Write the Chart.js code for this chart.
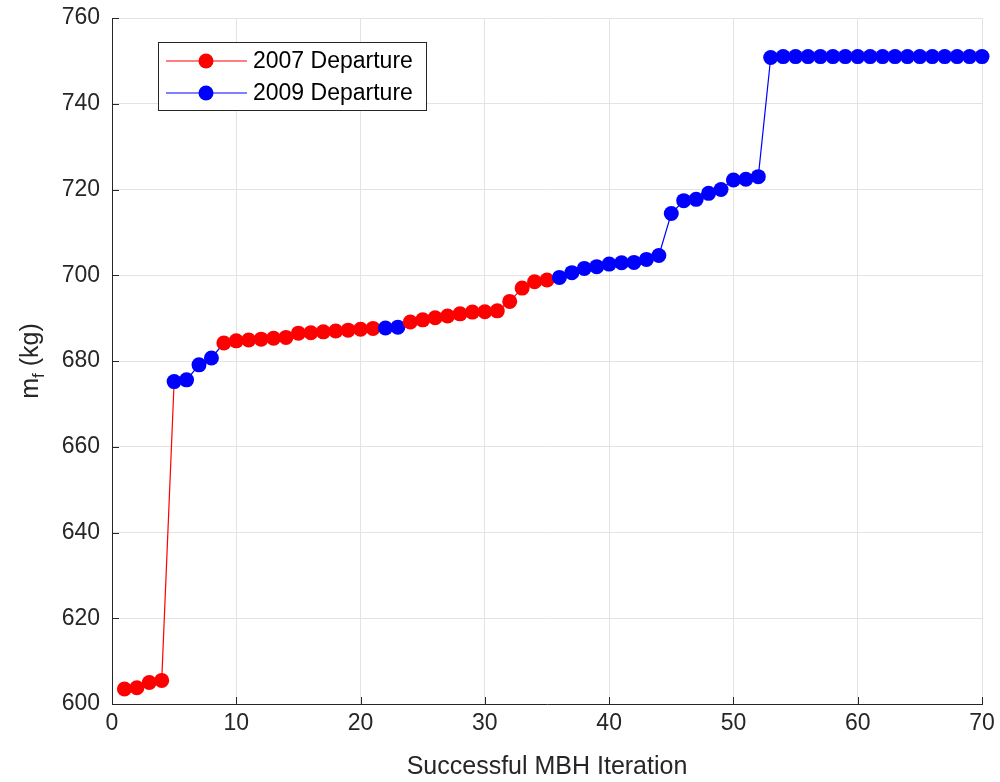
<!DOCTYPE html>
<html>
<head>
<meta charset="utf-8">
<script src="https://cdn.jsdelivr.net/npm/chart.js"></script>
<style>
  html, body { margin: 0; padding: 0; background: #ffffff; }
  #chart { display: block; }
</style>
</head>
<body>
<canvas id="chart" width="1000" height="782"></canvas>
<script>
const FONT = '"Liberation Sans", Arial, Helvetica, sans-serif';
const AXIS_COLOR = '#262626';
const GRID_COLOR = '#e3e3e3';

const iterations = [
    1, 2, 3, 4, 5, 6, 7, 8, 9, 10,
    11, 12, 13, 14, 15, 16, 17, 18, 19, 20,
    21, 22, 23, 24, 25, 26, 27, 28, 29, 30,
    31, 32, 33, 34, 35, 36, 37, 38, 39, 40,
    41, 42, 43, 44, 45, 46, 47, 48, 49, 50,
    51, 52, 53, 54, 55, 56, 57, 58, 59, 60,
    61, 62, 63, 64, 65, 66, 67, 68, 69, 70
];

// fuel mass m_f (kg) at each successful iteration
const fuelMass = [
    603.5, 603.8, 605.0, 605.5, 675.2, 675.6, 679.1, 680.7, 684.2, 684.7,
    684.9, 685.1, 685.3, 685.5, 686.5, 686.6, 686.8, 687.0, 687.2, 687.4,
    687.6, 687.7, 687.9, 689.1, 689.6, 690.1, 690.5, 691.0, 691.4, 691.5,
    691.7, 693.9, 697.0, 698.5, 698.9, 699.5, 700.6, 701.6, 702.0, 702.6,
    702.9, 703.0, 703.7, 704.6, 714.4, 717.4, 717.7, 719.1, 720.0, 722.2,
    722.4, 723.0, 750.8, 751.0, 751.0, 751.0, 751.0, 751.0, 751.0, 751.0,
    751.0, 751.0, 751.0, 751.0, 751.0, 751.0, 751.0, 751.0, 751.0, 751.0
];

// departure year of the best solution at each iteration
const departure = [
    2007, 2007, 2007, 2007, 2009, 2009, 2009, 2009, 2007, 2007,
    2007, 2007, 2007, 2007, 2007, 2007, 2007, 2007, 2007, 2007,
    2007, 2009, 2009, 2007, 2007, 2007, 2007, 2007, 2007, 2007,
    2007, 2007, 2007, 2007, 2007, 2009, 2009, 2009, 2009, 2009,
    2009, 2009, 2009, 2009, 2009, 2009, 2009, 2009, 2009, 2009,
    2009, 2009, 2009, 2009, 2009, 2009, 2009, 2009, 2009, 2009,
    2009, 2009, 2009, 2009, 2009, 2009, 2009, 2009, 2009, 2009
];

const legendYears = [2007, 2009];
const legendLabels = ['2007 Departure', '2009 Departure'];
const yearColors = { 2007: '#ff0000', 2009: '#0000ff' };

const xTicks = [0, 10, 20, 30, 40, 50, 60, 70];
const yTicks = [600, 620, 640, 660, 680, 700, 720, 740, 760];

const points = iterations.map((it, i) => ({ x: it, y: fuelMass[i] }));
const pointColors = departure.map(d => yearColors[d]);

// box legend in the upper left, line + marker like the original
const insideLegend = {
    id: 'insideLegend',
    afterDatasetsDraw(chart) {
        const ctx = chart.ctx;
        ctx.save();
        ctx.fillStyle = '#ffffff';
        ctx.fillRect(158.5, 42.5, 268, 68);
        ctx.strokeStyle = AXIS_COLOR;
        ctx.lineWidth = 1;
        ctx.strokeRect(158.5, 42.5, 268, 68);
        legendYears.forEach((yr, i) => {
            const y = 61 + i * 32;
            ctx.strokeStyle = yearColors[yr];
            ctx.lineWidth = 1.2;
            ctx.beginPath();
            ctx.moveTo(166, y);
            ctx.lineTo(247, y);
            ctx.stroke();
            ctx.fillStyle = yearColors[yr];
            ctx.beginPath();
            ctx.arc(206, y, 7.5, 0, Math.PI * 2);
            ctx.fill();
            ctx.fillStyle = '#000000';
            ctx.font = '23px ' + FONT;
            ctx.textAlign = 'left';
            ctx.textBaseline = 'middle';
            ctx.fillText(legendLabels[i], 253, y + 1);
        });
        ctx.restore();
    }
};

// inward tick marks and axis titles (y title needs a subscript)
const axisExtras = {
    id: 'axisExtras',
    beforeDatasetsDraw(chart) {
        const ctx = chart.ctx;
        const xs = chart.scales.x, ys = chart.scales.y;
        const area = chart.chartArea;
        ctx.save();
        ctx.strokeStyle = AXIS_COLOR;
        ctx.lineWidth = 1;
        xTicks.forEach(t => {
            const px = Math.round(xs.getPixelForValue(t)) + 0.5;
            ctx.beginPath();
            ctx.moveTo(px, area.bottom);
            ctx.lineTo(px, area.bottom - 7);
            ctx.stroke();
        });
        yTicks.forEach(t => {
            const py = Math.round(ys.getPixelForValue(t)) + 0.5;
            ctx.beginPath();
            ctx.moveTo(area.left, py);
            ctx.lineTo(area.left + 7, py);
            ctx.stroke();
        });
        ctx.restore();
    },
    afterDraw(chart) {
        const ctx = chart.ctx;
        const area = chart.chartArea;
        ctx.save();
        ctx.fillStyle = AXIS_COLOR;
        ctx.font = '25px ' + FONT;
        ctx.textAlign = 'center';
        ctx.textBaseline = 'middle';
        ctx.fillText('Successful MBH Iteration', (area.left + area.right) / 2, 767);

        // y title: m_f (kg), rotated
        ctx.translate(30, (area.top + area.bottom) / 2);
        ctx.rotate(-Math.PI / 2);
        ctx.textAlign = 'left';
        ctx.textBaseline = 'alphabetic';
        const big = '25px ' + FONT, small = '17px ' + FONT;
        ctx.font = big;
        const wM = ctx.measureText('m').width;
        const wRest = ctx.measureText(' (kg)').width;
        ctx.font = small;
        const wF = ctx.measureText('f').width;
        let x0 = -(wM + wF + wRest) / 2;
        const base = 8;
        ctx.font = big;
        ctx.fillText('m', x0, base);
        x0 += wM;
        ctx.font = small;
        ctx.fillText('f', x0, base + 6);
        x0 += wF;
        ctx.font = big;
        ctx.fillText(' (kg)', x0, base);
        ctx.restore();
    }
};

new Chart(document.getElementById('chart'), {
    type: 'line',
    data: {
        datasets: [{
            label: 'm_f',
            data: points,
            borderWidth: 1.2,
            borderColor: '#ff0000',
            segment: {
                borderColor: c => pointColors[c.p0DataIndex]
            },
            pointRadius: 7.5,
            pointHoverRadius: 7.5,
            pointBorderWidth: 0,
            pointBackgroundColor: pointColors,
            pointBorderColor: pointColors,
            tension: 0,
            clip: false
        }]
    },
    options: {
        responsive: false,
        animation: false,
        events: [],
        layout: { padding: { left: 0, right: 18, top: 18, bottom: 0 } },
        plugins: {
            legend: { display: false },
            tooltip: { enabled: false }
        },
        scales: {
            x: {
                type: 'linear',
                min: 0,
                max: 70,
                afterFit(scale) {
                    scale.height = 78;
                    scale.paddingLeft = 0;
                    scale.paddingRight = 0;
                },
                afterBuildTicks(scale) { scale.ticks = xTicks.map(v => ({ value: v })); },
                grid: { color: GRID_COLOR, lineWidth: 1, drawTicks: false },
                border: { color: AXIS_COLOR, width: 1 },
                ticks: {
                    color: AXIS_COLOR,
                    font: { family: FONT, size: 23 },
                    padding: 6,
                    maxRotation: 0
                }
            },
            y: {
                type: 'linear',
                min: 600,
                max: 760,
                afterFit(scale) {
                    scale.width = 112;
                    scale.paddingTop = 0;
                    scale.paddingBottom = 0;
                },
                afterBuildTicks(scale) { scale.ticks = yTicks.map(v => ({ value: v })); },
                grid: { color: GRID_COLOR, lineWidth: 1, drawTicks: false },
                border: { color: AXIS_COLOR, width: 1 },
                ticks: {
                    color: AXIS_COLOR,
                    font: { family: FONT, size: 23 },
                    padding: 12
                }
            }
        }
    },
    plugins: [axisExtras, insideLegend]
});
</script>
</body>
</html>
